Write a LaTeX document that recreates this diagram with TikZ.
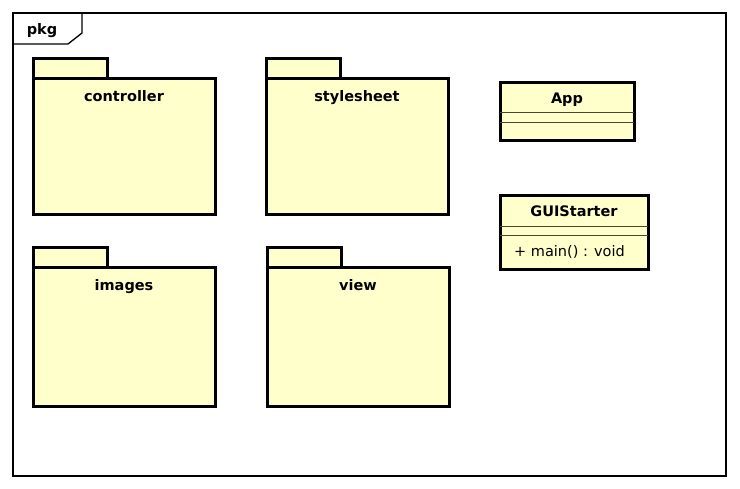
\documentclass[tikz,border=0pt]{standalone}
\usepackage{fontspec}
\setmainfont{DejaVu Sans}
\usetikzlibrary{calc,positioning}
\definecolor{umlfill}{RGB}{255,255,204}
\definecolor{umlline}{RGB}{70,70,50}

\begin{document}
\begin{tikzpicture}[x=1pt,y=-1pt,
  frame/.style={draw=black,line width=1.3pt},
  pkgbody/.style={draw=black,fill=umlfill,line width=3pt,outer sep=0pt,
    minimum width=182pt,minimum height=136pt,anchor=north west,inner sep=0pt},
  pkgtab/.style={draw=black,fill=umlfill,line width=3pt,outer sep=0pt,
    minimum width=74pt,minimum height=20pt,anchor=south west,inner sep=0pt},
  classbox/.style={draw=black,fill=umlfill,line width=3pt,outer sep=0pt,
    anchor=north west,inner sep=0pt},
  compline/.style={draw=umlline,line width=1pt},
  title/.style={font=\fontsize{14.5}{16}\selectfont\bfseries,inner sep=0pt,anchor=base},
  member/.style={font=\fontsize{14.5}{16}\selectfont,inner sep=0pt,anchor=base west}]
  \useasboundingbox (0,0) rectangle (740,489);
  % Frame with its name tab.
  \draw[frame] (13,13) rectangle (726,476);
  \draw[frame] (13,44) -- (68,44) -- (82,33) -- (82,13);
  \node[title] (pkg) at (42,35) {pkg};
  % Packages.
  \node[pkgbody] (controller) at (33,79) {};
  \node[pkgtab] (controllertab) at (controller.north west) {};
  \node[title] (controllerlbl) at ($(controller.north)+(0,23)$) {controller};
  \node[pkgbody] (stylesheet) at (266,79) {};
  \node[pkgtab] (stylesheettab) at (stylesheet.north west) {};
  \node[title] (stylesheetlbl) at ($(stylesheet.north)+(0,23)$) {stylesheet};
  \node[pkgbody,minimum height=139pt] (images) at (33,268) {};
  \node[pkgtab] (imagestab) at (images.north west) {};
  \node[title] (imageslbl) at ($(images.north)+(0,23)$) {images};
  \node[pkgbody,minimum height=139pt] (view) at (267,268) {};
  \node[pkgtab] (viewtab) at (view.north west) {};
  \node[title] (viewlbl) at ($(view.north)+(0,23)$) {view};
  % Classes.
  \node[classbox,minimum width=134pt,minimum height=58pt] (app) at (500,83) {};
  \node[title] (applbl) at ($(app.north)+(0,21)$) {App};
  \draw[compline] ($(app.north west)+(0,30)$) -- ($(app.north east)+(0,30)$);
  \draw[compline] ($(app.north west)+(0,40)$) -- ($(app.north east)+(0,40)$);
  \node[classbox,minimum width=148pt,minimum height=74pt] (gui) at (500,196) {};
  \node[title] (guilbl) at ($(gui.north)+(0,21)$) {GUIStarter};
  \draw[compline] ($(gui.north west)+(0,31)$) -- ($(gui.north east)+(0,31)$);
  \draw[compline] ($(gui.north west)+(0,40)$) -- ($(gui.north east)+(0,40)$);
  \node[member] (main) at ($(gui.north west)+(14,61)$) {+ main() : void};
\end{tikzpicture}
\end{document}
